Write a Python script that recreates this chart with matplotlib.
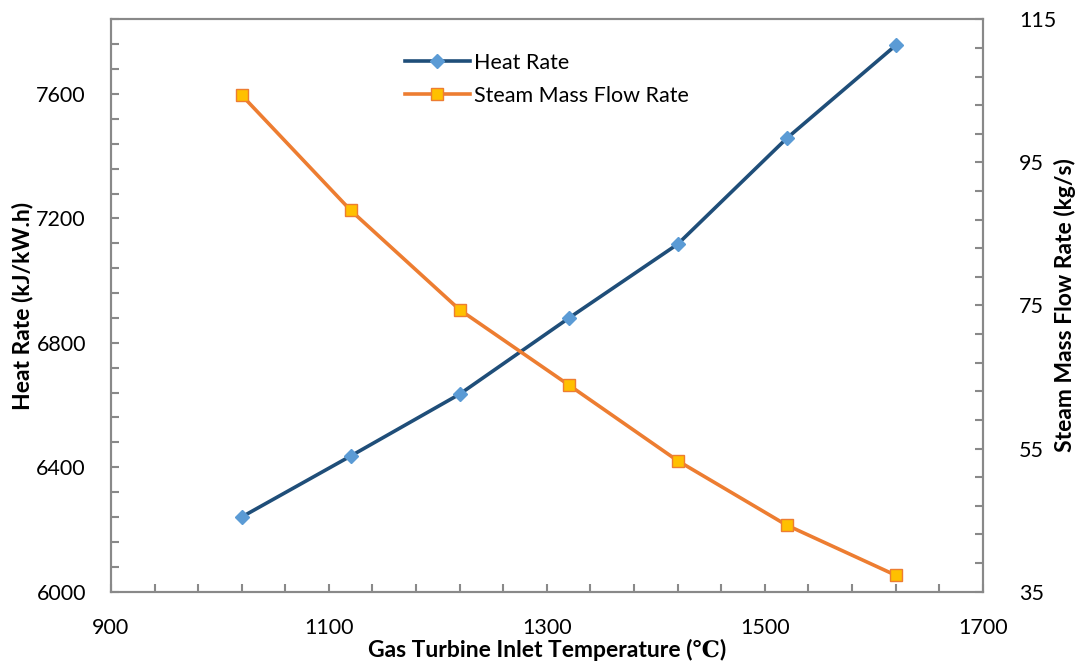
import matplotlib.pyplot as plt
from matplotlib.ticker import MultipleLocator

plt.rcParams['font.family'] = ['Lato', 'DejaVu Sans']

# Data
temperature = [1020, 1120, 1220, 1320, 1420, 1520, 1620]
heat_rate = [6240, 6436, 6635, 6879, 7117, 7457, 7756]
steam_flow = [104.4, 88.3, 74.4, 63.9, 53.3, 44.3, 37.3]

grey = '#898989'

fig = plt.figure(figsize=(10.77, 6.67), dpi=100)
ax = fig.add_axes([0.103, 0.113, 0.8095, 0.858])
ax2 = ax.twinx()

l1, = ax.plot(temperature, heat_rate, color='#1F4E79', linewidth=2.6,
              marker='D', markersize=7.5, markerfacecolor='#5B9BD5',
              markeredgecolor='#5B9BD5', label='Heat Rate', zorder=3)
l2, = ax2.plot(temperature, steam_flow, color='#ED7D31', linewidth=2.6,
               marker='s', markersize=9, markerfacecolor='#FFC000',
               markeredgecolor='#ED7D31', markeredgewidth=1.0,
               label='Steam Mass Flow Rate', zorder=3)

ax.set_xlim(900, 1700)
ax.set_ylim(6000, 7840)
ax2.set_ylim(35, 115)

# ticks start at the axis minimum (900 / 35), like the original
ax.xaxis.set_major_locator(MultipleLocator(200, offset=100))
ax.xaxis.set_minor_locator(MultipleLocator(40, offset=20))
ax.yaxis.set_major_locator(MultipleLocator(400))
ax.yaxis.set_minor_locator(MultipleLocator(80))
ax2.yaxis.set_major_locator(MultipleLocator(20, offset=15))
ax2.yaxis.set_minor_locator(MultipleLocator(4, offset=3))

for a in (ax, ax2):
    for s in a.spines.values():
        s.set_color(grey)
        s.set_linewidth(1.5)
    a.tick_params(which='both', direction='in', color=grey, width=1.5,
                  length=6, labelsize=15.5, labelcolor='black')

ax.tick_params(axis='x', which='both', top=False, pad=19)
ax.tick_params(axis='y', which='both', right=False, pad=18)
ax2.tick_params(axis='y', which='both', pad=26)

ax.set_xlabel('Gas Turbine Inlet Temperature (℃)', fontsize=16.5,
              fontweight='bold', labelpad=1, family=['Lato', 'DejaVu Serif'])
ax.set_ylabel('Heat Rate (kJ/kW.h)', fontsize=16.5, fontweight='bold',
              labelpad=2)
ax2.set_ylabel('Steam Mass Flow Rate (kg/s)', fontsize=16.5, fontweight='bold',
               va='center')
ax2.yaxis.set_label_coords(1.094, 0.5)

ax.legend(handles=[l1, l2], loc='upper left', bbox_to_anchor=(0.315, 0.975),
          frameon=False, fontsize=15.5, handlelength=3, labelspacing=0.6,
          handletextpad=0.2)

fig.savefig('out.png', dpi=100)
